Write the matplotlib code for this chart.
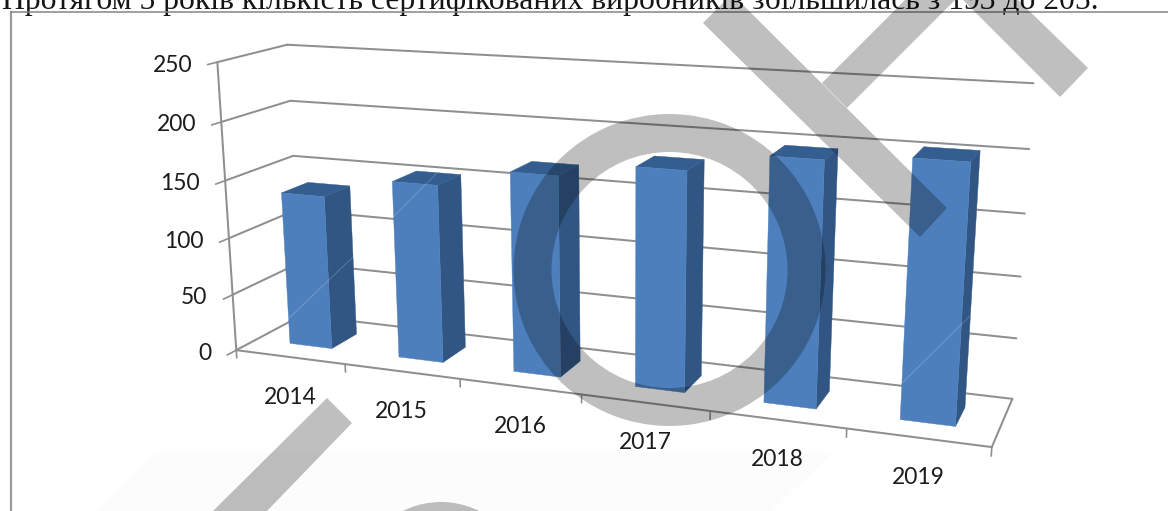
import numpy as np
import matplotlib
matplotlib.use("Agg")
import matplotlib.pyplot as plt
from matplotlib.patches import Polygon, Wedge, Circle

# Chart data
years = ["2014", "2015", "2016", "2017", "2018", "2019"]
producers = [135, 153, 169, 181, 197, 203]
value_ticks = [0, 50, 100, 150, 200, 250]
caption = "Протягом 5 років кількість сертифікованих виробників збільшилась з 193 до 205."

W, H = 1168, 511
FRONT, SIDE, TOP = "#4d7fbd", "#315684", "#345e90"
LINE = "#8f8f8f"

# Camera calibration: (category, value, depth) -> pixel position on the canvas
calib = [
    (0, 0, 0, 237, 349), (0, 250, 0, 217, 62), (0, 200, 0, 221, 121),
    (0, 150, 0, 225, 181), (0, 100, 0, 229, 238), (0, 50, 0, 233, 295),
    (0, 0, 1, 301, 315), (0, 250, 1, 288, 45), (0, 200, 1, 290, 101),
    (0, 150, 1, 293, 156),
    (6, 0, 1, 1012, 398), (6, 50, 1, 1017, 338), (6, 100, 1, 1021, 277),
    (6, 150, 1, 1025, 214), (6, 200, 1, 1029, 149), (6, 250, 1, 1033, 83),
    (1, 0, 0, 345, 365), (2, 0, 0, 460, 380), (3, 0, 0, 582, 394),
    (4, 0, 0, 710, 412), (5, 0, 0, 846, 428), (6, 0, 0, 992, 447),
]


def fit_camera(points):
    rows, rhs = [], []
    for c, v, d, px, py in points:
        X = [c, v / 250, d, 1]
        rows.append(X + [0, 0, 0, 0] + [-px * q for q in X[:3]])
        rhs.append(px)
        rows.append([0, 0, 0, 0] + X + [-py * q for q in X[:3]])
        rhs.append(py)
    sol = np.linalg.lstsq(np.array(rows, float), np.array(rhs, float), rcond=None)[0]
    return np.append(sol, 1).reshape(3, 4)


CAM = fit_camera(calib)


def project(c, v, d):
    p = CAM @ np.array([c, v / 250, d, 1.0])
    return p[0] / p[2], p[1] / p[2]


fig = plt.figure(figsize=(W / 100, H / 100), dpi=100)
ax = fig.add_axes([0, 0, 1, 1])
ax.set_xlim(0, W)
ax.set_ylim(H, 0)
ax.axis("off")

# Faint paper tone at the foot of the page
ax.add_patch(Polygon([(155, 453), (832, 453), (772, 511), (97, 511)],
                     fc="#fcfcfc", ec="none", zorder=0))

# Page text and the frame around the chart
ax.text(2, 9, caption, family="Liberation Serif", fontsize=22.75,
        color="#151515", va="baseline", ha="left", zorder=1)
ax.plot([11, 11], [511, 12.5], color="#9b9b9f", lw=1.6, zorder=1)
ax.plot([11, 1168], [12.5, 12.5], color="#858585", lw=1.1, zorder=1)


def seg(a, b, lw=1.45, color=LINE, z=2):
    pa, pb = project(*a), project(*b)
    ax.plot([pa[0], pb[0]], [pa[1], pb[1]], color=color, lw=lw, zorder=z,
            solid_capstyle="round")


# Walls and floor
for v in value_ticks:
    seg((0, v, 0), (0, v, 1))
    seg((0, v, 1), (6, v, 1))
    seg((0, v, 0), (0, v, -0.13), lw=1.2)
    x, y = project(0, v, 0)
    ax.annotate(str(v), (x, y), xytext=(-25, -3), textcoords="offset pixels",
                ha="right", va="center", family="Lato", fontsize=16.5,
                color="#1c1c1c", zorder=3)
seg((0, 0, 0), (0, 250, 0))
seg((0, 0, 0), (6, 0, 0))
seg((6, 0, 0), (6, 0, 1))

# Category ticks and labels
for i in range(len(years) + 1):
    seg((i, 0, 0), (i, -7, 0), lw=1.2)
for i, label in enumerate(years):
    x, y = project(i + 0.5, 0, 0)
    ax.annotate(label, (x, y), xytext=(0, -40), textcoords="offset pixels",
                ha="center", va="center", family="Lato", fontsize=16.5,
                color="#1c1c1c", zorder=3)

# Bars
C0, C1, D0, D1 = 0.315, 0.705, 0.30, 0.70
for i, value in enumerate(producers):
    l, r = i + C0, i + C1
    front = [project(l, 0, D0), project(r, 0, D0), project(r, value, D0), project(l, value, D0)]
    side = [project(r, 0, D0), project(r, 0, D1), project(r, value, D1), project(r, value, D0)]
    top = [project(l, value, D0), project(r, value, D0), project(r, value, D1), project(l, value, D1)]
    for pts, col in ((side, SIDE), (top, TOP), (front, FRONT)):
        ax.add_patch(Polygon(pts, fc=col, ec=col, lw=0.3, zorder=4))

# Thin pale seams running across the scanned bars
for (x0, y0, x1, y1) in [(287, 320, 353, 257), (393, 217, 437, 173), (902, 383, 972, 314)]:
    ax.plot([x0, x1], [y0, y1], color="white", alpha=0.2, lw=0.7, zorder=5)

# Watermark overprint: translucent so it darkens whatever lies beneath
mark = dict(fc="black", ec="none", alpha=0.25, zorder=6)
ax.add_patch(Polygon([(703, 23), (726, 0), (738, 0), (947, 208), (920, 237)], **mark))
ax.add_patch(Polygon([(905, 0), (955, 0), (847, 108), (822, 83)], **mark))
ax.add_patch(Polygon([(963, 0), (1018, 0), (1088, 68), (1060, 97)], **mark))
ax.add_patch(Polygon([(327, 398), (352, 423), (267, 511), (213, 511)], **mark))
ax.add_patch(Wedge((669.5, 270), 156, 0, 360, width=38, **mark))
ax.add_patch(Circle((441, 587), 85, **mark))

fig.savefig("out.png", dpi=100)
